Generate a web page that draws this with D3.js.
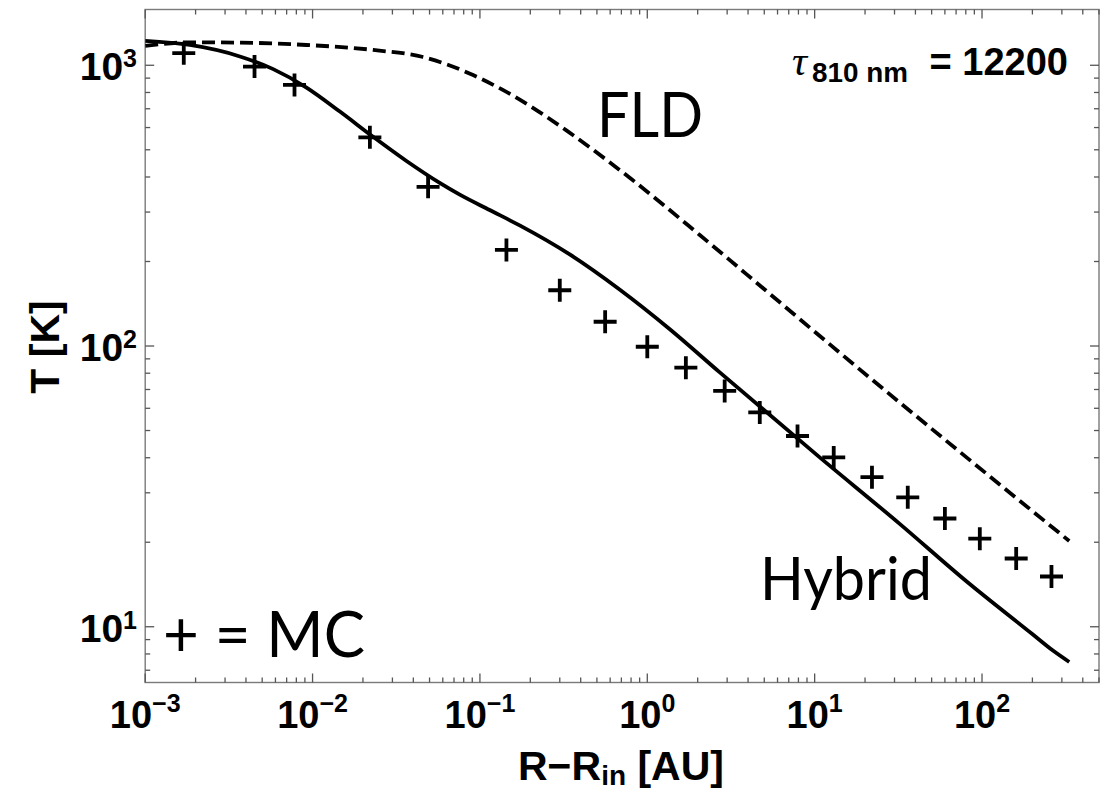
<!DOCTYPE html>
<html><head><meta charset="utf-8">
<script src="https://cdn.jsdelivr.net/npm/d3@7"></script>
<style>body{margin:0;background:#fff}svg{display:block}</style>
</head><body>
<svg id="c" width="1118" height="791"></svg>
<script>
// ---- data ----
const mcR = [0.0017, 0.0045, 0.0078, 0.022, 0.049, 0.144, 0.30, 0.56, 1.0, 1.7, 2.9, 4.7, 7.9, 13, 22, 36, 60, 97, 160, 260];
const mcT = [1104, 989, 851, 554, 369, 220, 158, 122, 99.4, 83.7, 69.2, 58, 47.8, 40.1, 34.1, 28.9, 24.3, 20.6, 17.5, 15.1];

const hybridR = [0.001, 0.00185, 0.00368, 0.00582, 0.0092, 0.01456, 0.023, 0.0364, 0.0575, 0.0758, 0.1144, 0.1728, 0.344, 0.683, 1.358, 2.70, 10.68, 32.1, 80.3, 200.5, 264, 332];
const hybridT = [1221, 1181, 1075, 969, 833, 684, 556, 456, 381, 346, 305, 269, 212, 159, 115, 80.7, 40.2, 23.3, 14.55, 9.40, 8.24, 7.49];

const fldR = [0.001, 0.00185, 0.00368, 0.0092, 0.023, 0.0457, 0.091, 0.137, 0.227, 0.330, 0.817, 2.05, 5.15, 13.5, 332];
const fldT = [1172, 1207, 1204, 1181, 1134, 1070, 923, 817, 681, 585, 390, 249, 157, 96.8, 20.2];

const xTickValues = [1e-3, 1e-2, 1e-1, 1, 10, 100];
const xTickExponents = ["\u22123", "\u22122", "\u22121", "0", "1", "2"];
const yTickValues = [10, 100, 1000];
const yTickExponents = ["1", "2", "3"];

const xTitle = ["R\u2212R", "in", " [AU]"];
const yTitle = "T [K]";
const tauLabel = ["\u03C4", "810 nm", "= 12200"];

// ---- layout ----
const L = 145.2, R = 1099, T = 9.5, B = 682.5;
const svg = d3.select("#c");
const x = d3.scaleLog().domain([1e-3, 500]).range([L, R]);
const y = d3.scaleLog().domain([6.33, 1580]).range([B, T]);

svg.append("defs").append("clipPath").attr("id", "clip")
  .append("rect").attr("x", L).attr("y", T).attr("width", R - L).attr("height", B - T);

const isMajor = v => Math.abs(Math.log10(v) - Math.round(Math.log10(v))) < 1e-9;
const tickCol = "#555";

// frame
svg.append("rect").attr("x", L).attr("y", T).attr("width", R - L).attr("height", B - T)
  .attr("fill", "none").attr("stroke", "#7a7a7a").attr("stroke-width", 1.4);

const tg = svg.append("g").attr("stroke", tickCol).attr("stroke-width", 1.3);
x.ticks().filter(v => v >= 1e-3 && v <= 500).forEach(v => {
  const px = x(v), len = isMajor(v) ? 9 : 5;
  tg.append("line").attr("x1", px).attr("x2", px).attr("y1", B).attr("y2", B - len);
  tg.append("line").attr("x1", px).attr("x2", px).attr("y1", T).attr("y2", T + len);
});
y.ticks().filter(v => v >= 6.33 && v <= 1580).forEach(v => {
  const py = y(v), len = isMajor(v) ? 9 : 5;
  tg.append("line").attr("y1", py).attr("y2", py).attr("x1", L).attr("x2", L + len);
  tg.append("line").attr("y1", py).attr("y2", py).attr("x1", R).attr("x2", R - len);
});

// tick labels
const sansB = "'Liberation Sans', Arial, Helvetica, sans-serif";
xTickValues.forEach((v, i) => {
  const t = svg.append("text").attr("x", x(v)).attr("y", 728).attr("text-anchor", "middle")
    .attr("font-family", sansB).attr("font-weight", "bold").attr("font-size", 38).attr("fill", "#000");
  t.append("tspan").text("10");
  t.append("tspan").attr("dy", -16).attr("font-size", 25).text(xTickExponents[i]);
});
yTickValues.forEach((v, i) => {
  const t = svg.append("text").attr("x", 137).attr("y", y(v) + 15).attr("text-anchor", "end")
    .attr("font-family", sansB).attr("font-weight", "bold").attr("font-size", 39).attr("fill", "#000");
  t.append("tspan").text("10");
  t.append("tspan").attr("dy", -13).attr("font-size", 25).text(yTickExponents[i]);
});

// axis titles (x title built from three pieces, laid out side by side)
const xtG = svg.append("g").attr("font-family", sansB).attr("font-weight", "bold").attr("fill", "#000");
const p1 = xtG.append("text").attr("y", 780).attr("font-size", 41).text(xTitle[0]);
const p2 = xtG.append("text").attr("y", 785).attr("font-size", 28).text(xTitle[1]);
const p3 = xtG.append("text").attr("y", 780).attr("font-size", 41).attr("xml:space", "preserve").style("white-space", "pre").text(xTitle[2]);
const w1 = p1.node().getComputedTextLength(), w2 = p2.node().getComputedTextLength(), w3 = p3.node().getComputedTextLength();
const x0 = 621 - (w1 + w2 + w3) / 2;
p1.attr("x", x0); p2.attr("x", x0 + w1); p3.attr("x", x0 + w1 + w2);

svg.append("text").attr("transform", "translate(59,347) rotate(-90)").attr("text-anchor", "middle")
  .attr("font-family", sansB).attr("font-weight", "bold").attr("font-size", 41).text(yTitle);

// curves
const plot = svg.append("g").attr("clip-path", "url(#clip)");
const line = d3.line().x(d => x(d[0])).y(d => y(d[1])).curve(d3.curveMonotoneX);
plot.append("path").datum(fldR.map((r, i) => [r, fldT[i]])).attr("d", line)
  .attr("fill", "none").attr("stroke", "#000").attr("stroke-width", 3.8).attr("stroke-dasharray", "13,6");
plot.append("path").datum(hybridR.map((r, i) => [r, hybridT[i]])).attr("d", line)
  .attr("fill", "none").attr("stroke", "#000").attr("stroke-width", 3.8).attr("stroke-linejoin", "round");

// MC markers
plot.selectAll("path.mc").data(mcR.map((r, i) => [r, mcT[i]])).join("path").attr("class", "mc")
  .attr("transform", d => `translate(${x(d[0])},${y(d[1])})`)
  .attr("d", "M-11.5,0H11.5M0,-11.5V11.5").attr("stroke", "#000").attr("stroke-width", 3.8).attr("fill", "none");

// annotations
const hum = "Lato, 'Open Sans', sans-serif";
svg.append("text").attr("x", 597).attr("y", 137).attr("font-family", hum).attr("font-size", 61)
  .attr("textLength", 106).attr("lengthAdjust", "spacingAndGlyphs").text("FLD");
svg.append("text").attr("x", 760).attr("y", 600).attr("font-family", hum).attr("font-size", 60)
  .attr("textLength", 172).attr("lengthAdjust", "spacingAndGlyphs").text("Hybrid");
svg.append("text").attr("x", 163).attr("y", 657).attr("font-family", hum).attr("font-size", 63)
  .attr("textLength", 202).attr("lengthAdjust", "spacingAndGlyphs").text("+ = MC");

svg.append("text").attr("x", 792).attr("y", 75).attr("font-family", "'Liberation Serif', 'Times New Roman', serif")
  .attr("font-style", "italic").attr("font-size", 42).text(tauLabel[0]);
svg.append("text").attr("x", 812).attr("y", 82).attr("font-family", sansB).attr("font-weight", "bold")
  .attr("font-size", 27).attr("textLength", 96).attr("lengthAdjust", "spacingAndGlyphs").text(tauLabel[1]);
svg.append("text").attr("x", 1068).attr("y", 75).attr("text-anchor", "end").attr("font-family", sansB)
  .attr("font-weight", "bold").attr("font-size", 38).text(tauLabel[2]);
</script>
</body></html>
